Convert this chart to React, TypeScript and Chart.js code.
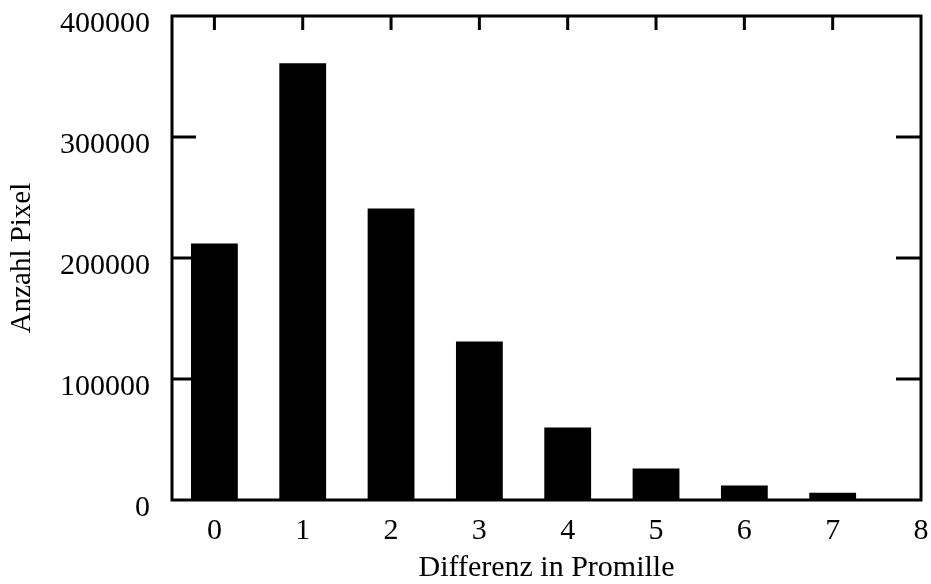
import React, { useEffect, useRef } from "react";
import { Chart, registerables } from "chart.js";

Chart.register(...registerables);

const categories = [0, 1, 2, 3, 4, 5, 6, 7];
const pixelCounts = [212000, 361000, 241000, 131000, 60000, 26000, 12000, 6000];
const xTickValues = [0, 1, 2, 3, 4, 5, 6, 7, 8];
const yTickValues = [0, 100000, 200000, 300000, 400000];
const xTitle = "Differenz in Promille";
const yTitle = "Anzahl Pixel";

const FONT = "'Liberation Serif', 'Times New Roman', serif";

const framePlugin = {
  id: "frameTicks",
  afterDraw(chart: any) {
    const { ctx, chartArea } = chart;
    const { left, right, top, bottom } = chartArea;
    const xs = chart.scales.x;
    const ys = chart.scales.y;
    ctx.save();
    ctx.strokeStyle = "#000";
    ctx.lineWidth = 3;
    ctx.lineCap = "square";
    ctx.strokeRect(left, top, right - left, bottom - top);
    ctx.lineCap = "butt";
    ctx.beginPath();
    for (const v of xTickValues) {
      if (v >= xTickValues[xTickValues.length - 1]) continue;
      const px = xs.getPixelForValue(v);
      ctx.moveTo(px, top);
      ctx.lineTo(px, top + 14);
    }
    ctx.stroke();
    for (const v of yTickValues) {
      if (v <= 0 || v >= yTickValues[yTickValues.length - 1]) continue;
      const py = ys.getPixelForValue(v);
      ctx.beginPath();
      ctx.moveTo(left, py);
      ctx.lineTo(left + 24, py);
      ctx.stroke();
      ctx.beginPath();
      ctx.moveTo(right, py);
      ctx.lineTo(right - 25, py);
      ctx.stroke();
    }
    ctx.restore();
  },
};

export default function App() {
  const ref = useRef<HTMLCanvasElement | null>(null);

  useEffect(() => {
    document.body.style.margin = "0";
    const canvas = ref.current;
    if (!canvas) return;
    const chart = new Chart(canvas, {
      type: "bar",
      data: {
        datasets: [
          {
            data: categories.map((c, i) => ({ x: c, y: pixelCounts[i] })),
            backgroundColor: "#000",
            borderWidth: 0,
            barPercentage: 0.53,
            categoryPercentage: 1,
          },
        ],
      },
      options: {
        animation: false,
        responsive: false,
        layout: { padding: { top: 16, right: 10, left: 0, bottom: 0 } },
        plugins: {
          legend: { display: false },
          tooltip: { enabled: false },
        },
        scales: {
          x: {
            type: "linear",
            offset: false,
            min: -0.48,
            max: 8,
            grid: { display: false, drawTicks: false },
            border: { display: false },
            afterBuildTicks: (scale: any) => {
              scale.ticks = xTickValues.map((v) => ({ value: v }));
            },
            afterFit: (scale: any) => {
              scale.height = 84;
              scale.paddingLeft = 0;
              scale.paddingRight = 0;
            },
            ticks: {
              color: "#000",
              padding: 13,
              font: { family: FONT, size: 30 },
              maxRotation: 0,
              autoSkip: false,
            },
            title: {
              display: true,
              text: xTitle,
              color: "#000",
              font: { family: FONT, size: 30 },
              padding: { top: 0, bottom: -2 },
            },
          },
          y: {
            min: 0,
            max: 400000,
            grid: { display: false, drawTicks: false },
            border: { display: false },
            afterBuildTicks: (scale: any) => {
              scale.ticks = yTickValues.map((v) => ({ value: v }));
            },
            afterFit: (scale: any) => {
              scale.width = 172;
              scale.paddingTop = 0;
              scale.paddingBottom = 0;
            },
            ticks: {
              color: "#000",
              padding: 22,
              labelOffset: 8,
              font: { family: FONT, size: 30 },
              callback: (v: any) => String(v),
            },
            title: {
              display: true,
              text: yTitle,
              color: "#000",
              font: { family: FONT, size: 29 },
              padding: { top: 5, bottom: 0 },
            },
          },
        },
      },
      plugins: [framePlugin],
    } as any);
    return () => chart.destroy();
  }, []);

  return (
    <div style={{ position: "fixed", left: 0, top: 0, width: 931, height: 584, background: "#fff" }}>
      <canvas ref={ref} width={931} height={584} style={{ display: "block" }} />
    </div>
  );
}
